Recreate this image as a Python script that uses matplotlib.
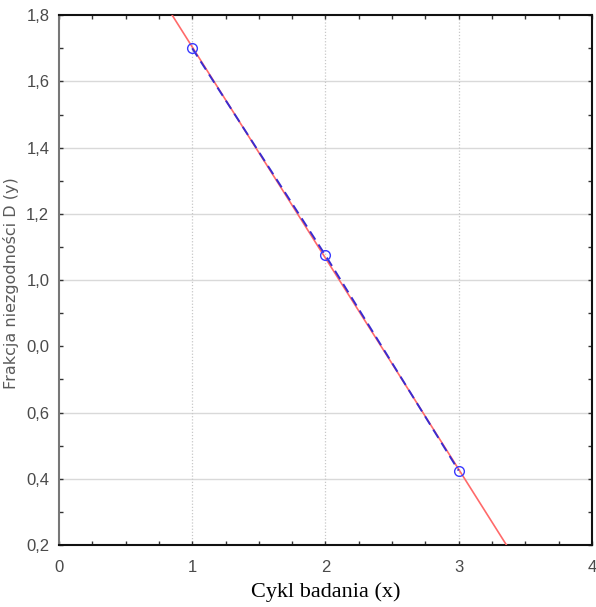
import numpy as np
import matplotlib
matplotlib.use("Agg")
import matplotlib.pyplot as plt
from matplotlib.ticker import MultipleLocator

# measured points (cycle vs. defect fraction)
cycle = [1, 2, 3]
fraction = [1.70, 1.075, 0.425]

y_ticks = [0.2, 0.4, 0.6, 0.8, 1.0, 1.2, 1.4, 1.6, 1.8]
y_tick_labels = ["0,2", "0,4", "0,6", "0,0", "1,0", "1,2", "1,4", "1,6", "1,8"]
x_ticks = [0, 1, 2, 3, 4]
h_grid = [0.4, 0.6, 1.0, 1.2, 1.4, 1.6]

fig = plt.figure(figsize=(5.96, 6.07), dpi=100)
ax = fig.add_axes([0.099, 0.102, 0.894, 0.873])

# linear fit line
coef = np.polyfit(cycle, fraction, 1)
xs = np.linspace(0, 4, 200)
ax.plot(xs, np.polyval(coef, xs), color="#ff6a6a", lw=1.2, zorder=3)

ax.plot(cycle, fraction, color="#3a2cd0", lw=1.4, ls=(0, (5, 3)), zorder=4)
ax.plot(cycle, fraction, ls="none", marker="o", ms=7, mfc="none",
        mec="#3a3aff", mew=1.0, zorder=5)

for v in h_grid:
    ax.axhline(v, color="#d9d9d9", lw=1.0, zorder=1)
for v in [1, 2, 3]:
    ax.axvline(v, color="#c8c8c8", lw=0.9, ls=(0, (1, 1.5)), zorder=1)

ax.set_xlim(0, 4)
ax.set_ylim(0.2, 1.8)
ax.set_xticks(x_ticks)
ax.set_yticks(y_ticks)
ax.set_yticklabels(y_tick_labels)
ax.xaxis.set_minor_locator(MultipleLocator(0.25))
ax.yaxis.set_minor_locator(MultipleLocator(0.1))
ax.tick_params(which="both", direction="in", top=True, right=True,
               length=3, width=1, color="#333333")
ax.tick_params(which="major", labelsize=12, labelcolor="#4a4a4a")
ax.tick_params(axis="x", which="major", pad=11)
ax.tick_params(axis="y", which="major", pad=7)
for lab in ax.get_xticklabels() + ax.get_yticklabels():
    lab.set_family(["Liberation Sans", "DejaVu Sans"])

for side in ["top", "bottom", "right"]:
    ax.spines[side].set_color("#111111")
    ax.spines[side].set_linewidth(1.5)
ax.spines["left"].set_color("#777777")
ax.spines["left"].set_linewidth(1.5)

ax.set_xlabel("Cykl badania (x)", family="Liberation Serif", fontsize=16,
              labelpad=5)
ax.set_ylabel("Frakcja niezgodności D (y)", family="DejaVu Sans",
              fontsize=11.5, color="#5a5a5a")
ax.yaxis.set_label_coords(-0.075, 0.495)

fig.savefig("out.png", dpi=100)
